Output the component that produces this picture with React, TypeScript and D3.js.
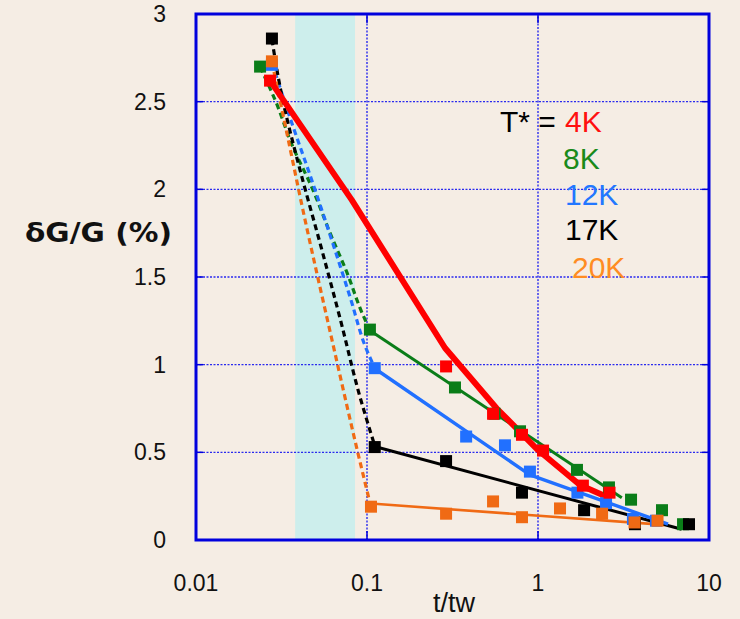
import React from "react";
import * as d3 from "d3";

type P = [number, number];

// Relaxation δG/G (%) against reduced time t/tw for several temperature steps T*
const seriesNames = ["4K", "8K", "12K", "17K", "20K"];

// Measured points
const redPts: P[] = [[0.0271, 2.62], [0.29, 0.99], [0.546, 0.72], [0.806, 0.6], [1.07, 0.51], [1.83, 0.31], [2.62, 0.27]];
const greenPts: P[] = [[0.0237, 2.7], [0.104, 1.2], [0.327, 0.87], [0.557, 0.72], [0.785, 0.62], [1.69, 0.4], [2.6, 0.3], [3.5, 0.23], [5.31, 0.17], [7.05, 0.09]];
const bluePts: P[] = [[0.0278, 2.71], [0.111, 0.98], [0.38, 0.59], [0.641, 0.54], [0.897, 0.39], [1.7, 0.27], [2.5, 0.21], [3.59, 0.12], [4.9, 0.11]];
const blackPts: P[] = [[0.0278, 2.86], [0.111, 0.53], [0.29, 0.45], [0.806, 0.27], [1.86, 0.17], [3.69, 0.09], [7.64, 0.09]];
const orangePts: P[] = [[0.0278, 2.73], [0.1055, 0.19], [0.29, 0.15], [0.546, 0.22], [0.806, 0.13], [1.345, 0.18], [2.37, 0.15], [3.67, 0.1], [5.0, 0.11]];

// Solid trend lines for the slow regime
const redFit: P[] = [[0.0271, 2.62], [0.0814, 1.94], [0.286, 1.095], [0.574, 0.75], [1.0, 0.513], [1.76, 0.314], [2.52, 0.247]];
const greenFit: P[] = [[0.104, 1.195], [3.09, 0.241]];
const blueFit: P[] = [[0.111, 0.978], [0.897, 0.371], [5.76, 0.091]];
const blackFit: P[] = [[0.111, 0.533], [6.92, 0.061]];
const orangeFit: P[] = [[0.1055, 0.208], [5.5, 0.086]];

// Dashed guides for the fast drop
const greenDash: P[] = [[0.0237, 2.698], [0.029, 2.51], [0.0369, 2.241], [0.0475, 2.013], [0.0622, 1.728], [0.0761, 1.529], [0.0931, 1.3], [0.1041, 1.195]];
const blueDash: P[] = [[0.0278, 2.721], [0.0355, 2.407], [0.0475, 2.053], [0.0622, 1.711], [0.0796, 1.386], [0.0996, 1.084], [0.1114, 0.978]];
const blackDash: P[] = [[0.0278, 2.855], [0.0317, 2.538], [0.0406, 2.11], [0.0531, 1.694], [0.0695, 1.266], [0.091, 0.816], [0.1114, 0.533]];
const orangeDash: P[] = [[0.0278, 2.726], [0.034, 2.321], [0.0422, 1.882], [0.0624, 1.141], [0.0885, 0.496], [0.1055, 0.188]];

const band: [number, number] = [0.038, 0.0851];
const xTicks = [0.01, 0.1, 1, 10];
const xTickLabels = ["0.01", "0.1", "1", "10"];
const yTicks = [0, 0.5, 1, 1.5, 2, 2.5, 3];
const yTickLabels = ["0", "0.5", "1", "1.5", "2", "2.5", "3"];

const W = 740;
const H = 619;
const BG = "#f5ede4";
const AXIS = "#0000dd";
const GRID = "#2a2aee";
const FONT = "'Liberation Sans', Arial, sans-serif";

const C = {
  red: "#ff0000",
  green: "#0a7d18",
  blue: "#2170ff",
  black: "#000000",
  orange: "#f06a14",
};
const legendColors = ["#ff1010", "#1a8a1a", "#2277ff", "#000000", "#ff8c22"];

export default function App() {
  const x = d3.scaleLog().domain([0.01, 10]).range([196, 709]);
  const y = d3.scaleLinear().domain([0, 3]).range([540, 14]);
  const [x0, x1] = x.range();
  const [y0, y1] = y.range();

  const line = d3
    .line<P>()
    .x((d) => x(d[0]))
    .y((d) => y(d[1]));
  const smooth = d3
    .line<P>()
    .x((d) => x(d[0]))
    .y((d) => y(d[1]))
    .curve(d3.curveMonotoneY);

  const dashed: [P[], string][] = [
    [greenDash, C.green],
    [blueDash, C.blue],
    [blackDash, C.black],
    [orangeDash, C.orange],
  ];
  const fits: [P[], string, number][] = [
    [orangeFit, C.orange, 2.6],
    [blackFit, C.black, 3],
    [blueFit, C.blue, 3.4],
    [greenFit, C.green, 3],
    [redFit, C.red, 6],
  ];
  const markers: [P[], string][] = [
    [greenPts, C.green],
    [bluePts, C.blue],
    [blackPts, C.black],
    [orangePts, C.orange],
    [redPts, C.red],
  ];
  const S = 12;

  const legendRows = [
    { x: 565, y: 131.5 },
    { x: 563, y: 169 },
    { x: 565, y: 205 },
    { x: 565, y: 240 },
    { x: 572, y: 278 },
  ];

  return (
    <svg
      width={W}
      height={H}
      style={{ position: "absolute", left: 0, top: 0, background: BG }}
    >
      <rect x={0} y={0} width={W} height={H} fill={BG} />
      {/* transition window */}
      <rect
        x={x(band[0])}
        y={y1}
        width={x(band[1]) - x(band[0])}
        height={y0 - y1}
        fill="#cdeeec"
      />
      {/* grid */}
      {yTicks.slice(1, -1).map((v) => (
        <line
          key={"gy" + v}
          x1={x0}
          x2={x1}
          y1={y(v)}
          y2={y(v)}
          stroke={GRID}
          strokeWidth={1.4}
          strokeDasharray="2 1.5"
        />
      ))}
      {xTicks.slice(1, -1).map((v) => (
        <line
          key={"gx" + v}
          x1={x(v)}
          x2={x(v)}
          y1={y0}
          y2={y1}
          stroke={GRID}
          strokeWidth={1.4}
          strokeDasharray="2 1.5"
        />
      ))}
      {/* inward ticks */}
      {yTicks.slice(1, -1).map((v) => (
        <g key={"ty" + v} stroke={AXIS} strokeWidth={1.5}>
          <line x1={x0} x2={x0 + 7} y1={y(v)} y2={y(v)} />
          <line x1={x1} x2={x1 - 7} y1={y(v)} y2={y(v)} />
        </g>
      ))}
      {xTicks.slice(1, -1).map((v) => (
        <g key={"tx" + v} stroke={AXIS} strokeWidth={1.5}>
          <line x1={x(v)} x2={x(v)} y1={y0} y2={y0 - 9} />
          <line x1={x(v)} x2={x(v)} y1={y1} y2={y1 + 9} />
        </g>
      ))}

      {/* fast drop, dashed */}
      {dashed.map(([pts, c], i) => (
        <path
          key={"d" + i}
          d={smooth(pts) || ""}
          fill="none"
          stroke={c}
          strokeWidth={3.2}
          strokeDasharray="6 4"
        />
      ))}
      {/* slow regime, solid */}
      {fits.map(([pts, c, w], i) => (
        <path
          key={"f" + i}
          d={line(pts) || ""}
          fill="none"
          stroke={c}
          strokeWidth={w}
          strokeLinejoin="round"
        />
      ))}
      {/* data points */}
      {markers.map(([pts, c], i) => (
        <g key={"m" + i} fill={c}>
          {pts.map((p, j) => (
            <rect
              key={j}
              x={x(p[0]) - S / 2}
              y={y(p[1]) - S / 2}
              width={S}
              height={S}
            />
          ))}
        </g>
      ))}

      {/* frame */}
      <rect
        x={x0}
        y={y1}
        width={x1 - x0}
        height={y0 - y1}
        fill="none"
        stroke={AXIS}
        strokeWidth={3}
      />

      {/* tick labels */}
      {yTicks.map((v, i) => (
        <text
          key={"ly" + v}
          x={166}
          y={y(v)}
          dy="0.35em"
          textAnchor="end"
          fontFamily={FONT}
          fontSize={23}
          fill="#111"
        >
          {yTickLabels[i]}
        </text>
      ))}
      {xTicks.map((v, i) => (
        <text
          key={"lx" + v}
          x={x(v)}
          y={591}
          textAnchor="middle"
          fontFamily={FONT}
          fontSize={23}
          fill="#111"
        >
          {xTickLabels[i]}
        </text>
      ))}

      {/* axis titles */}
      <text
        x={454}
        y={612}
        textAnchor="middle"
        fontFamily={FONT}
        fontSize={27}
        fill="#111"
      >
        t/tw
      </text>
      <text
        x={25}
        y={242}
        fontFamily="'DejaVu Sans', sans-serif"
        fontWeight="bold"
        fontSize={27}
        textLength={147}
        lengthAdjust="spacingAndGlyphs"
        fill="#111"
      >
        δG/G (%)
      </text>

      {/* legend */}
      <text x={500} y={131.5} fontFamily={FONT} fontSize={30} fill="#000">
        T* =
      </text>
      {seriesNames.map((s, i) => (
        <text
          key={s}
          x={legendRows[i].x}
          y={legendRows[i].y}
          fontFamily={FONT}
          fontSize={30}
          fill={legendColors[i]}
        >
          {s}
        </text>
      ))}
    </svg>
  );
}
